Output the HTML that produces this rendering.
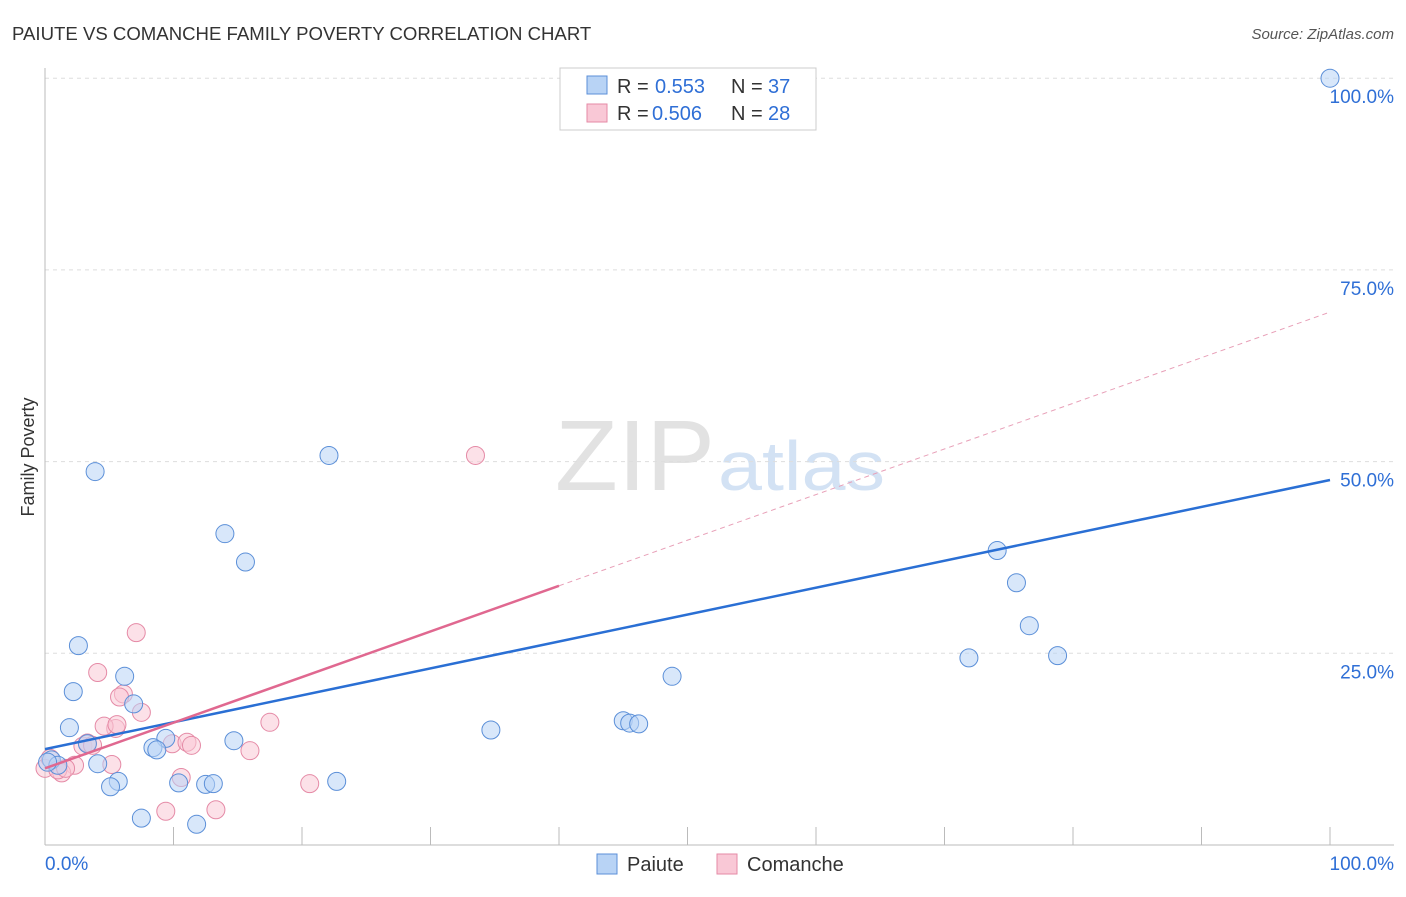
<!DOCTYPE html>
<html><head><meta charset="utf-8"><style>
body{margin:0;background:#fff;font-family:"Liberation Sans",sans-serif}
svg text{font-family:"Liberation Sans",sans-serif}
</style></head><body>
<svg id="c" width="1406" height="892" xmlns="http://www.w3.org/2000/svg">
<text x="12" y="40" font-size="18.6" fill="#333">PAIUTE VS COMANCHE FAMILY POVERTY CORRELATION CHART</text>
<text x="1394" y="39" font-size="15" fill="#555" text-anchor="end" font-style="italic">Source: ZipAtlas.com</text>
<text x="34" y="457" font-size="18" fill="#333" text-anchor="middle" transform="rotate(-90 34 457)">Family Poverty</text>
<text x="555" y="490" font-size="100" fill="#e2e2e2" textLength="160" lengthAdjust="spacingAndGlyphs" font-family="Liberation Serif">ZIP</text>
<text x="718" y="490" font-size="70" fill="#d3e2f4" textLength="167" lengthAdjust="spacingAndGlyphs">atlas</text>
<g id="grid"></g><g id="marks"></g>
<g>
<rect x="560" y="68" width="256" height="62" fill="#fff" stroke="#ccc"/>
<rect x="587" y="76" width="20" height="18" fill="#b8d3f5" stroke="#5b8fd8"/>
<text x="617" y="93" font-size="20" fill="#333">R =</text>
<text x="655" y="93" font-size="20" fill="#2f6fd6">0.553</text>
<text x="731" y="93" font-size="20" fill="#333">N =</text>
<text x="768" y="93" font-size="20" fill="#2f6fd6">37</text>
<rect x="587" y="104" width="20" height="18" fill="#f9c8d6" stroke="#e58aa6"/>
<text x="617" y="120" font-size="20" fill="#333">R =</text>
<text x="652" y="120" font-size="20" fill="#2f6fd6">0.506</text>
<text x="731" y="120" font-size="20" fill="#333">N =</text>
<text x="768" y="120" font-size="20" fill="#2f6fd6">28</text>
</g>
<g>
<rect x="597" y="854" width="20" height="20" fill="#b8d3f5" stroke="#5b8fd8"/>
<text x="627" y="871" font-size="20" fill="#333">Paiute</text>
<rect x="717" y="854" width="20" height="20" fill="#f9c8d6" stroke="#e58aa6"/>
<text x="747" y="871" font-size="20" fill="#333">Comanche</text>
</g>
</svg>
<script>
const paiuteX=[3.9,22.1,14,15.6,2.6,6.2,2.2,6.9,1.9,9.4,14.7,8.4,8.7,3.3,4.1,5.7,5.1,10.4,12.5,13.1,7.5,11.8,22.7,34.7,45,45.5,46.2,48.8,71.9,74.1,75.6,76.6,78.8,100,0.5,1,0.2];
const paiuteY=[48.7,50.8,40.6,36.9,26,22,20,18.4,15.3,13.9,13.6,12.7,12.4,13.2,10.6,8.3,7.6,8.1,7.9,8,3.5,2.7,8.3,15,16.2,15.9,15.8,22,24.4,38.4,34.2,28.6,24.7,100,11.1,10.4,10.8];
const comancheX=[33.5,7.1,4.1,6.1,5.8,7.5,5.5,4.6,5.6,17.5,2.95,3.3,3.7,9.9,11.05,11.4,15.95,5.2,2.3,10.6,20.6,9.4,13.3,0,0.4,1.3,1,1.6];
const comancheY=[50.8,27.7,22.5,19.7,19.3,17.3,15.2,15.5,15.7,16,12.9,13.3,13.0,13.2,13.4,13.0,12.3,10.5,10.4,8.8,8,4.4,4.6,10,11.3,9.4,9.8,10];
const paiuteLine=[12.5,47.6];
const comancheLine=[10.0,69.5];
const xTicks=[0,10,20,30,40,50,60,70,80,90,100];
const yTicks=[25,50,75,100];
const yTickLabels=["25.0%","50.0%","75.0%","100.0%"];
const NS="http://www.w3.org/2000/svg";
const X=v=>45+v*12.85, Y=v=>845-v*7.668;
function mk(t,a,p){const e=document.createElementNS(NS,t);for(const k in a)e.setAttribute(k,a[k]);p.appendChild(e);return e;}
const g=document.getElementById('grid'), m=document.getElementById('marks');
yTicks.forEach((t,i)=>{
 const l=mk('line',{x1:45,x2:1394,y1:Y(t),y2:Y(t),stroke:'#ddd','stroke-dasharray':'4,4'},g);
 
 
 const tx=mk('text',{x:1394,y:Y(t)+25,'font-size':19,fill:'#2f6fd6','text-anchor':'end'},g);
 tx.textContent=yTickLabels[i];
 
 
});
mk('line',{x1:45,x2:45,y1:68,y2:845,stroke:'#bbb'},g);
mk('line',{x1:45,x2:1394,y1:845,y2:845,stroke:'#bbb'},g);
xTicks.forEach(t=>{const l=mk('line',{x1:X(t),x2:X(t),y1:827,y2:845,stroke:'#bbb'},g);
 
 });
const xl=mk('text',{x:45,y:870,'font-size':19,fill:'#2f6fd6'},g);xl.textContent='0.0%';


const xr=mk('text',{x:1394,y:870,'font-size':19,fill:'#2f6fd6','text-anchor':'end'},g);xr.textContent='100.0%';


function pts(xs,ys,fill,stroke,name){xs.forEach((x,i)=>{const c=mk('circle',{cx:X(x),cy:Y(ys[i]),r:9,fill:fill,'fill-opacity':0.55,stroke:stroke,'stroke-width':1},m);
 
 });}
pts(comancheX,comancheY,'#f9c8d6','#e58aa6','comanche-point');
pts(paiuteX,paiuteY,'#b8d3f5','#5b8fd8','paiute-point');
const bl=mk('line',{x1:X(0),y1:Y(paiuteLine[0]),x2:X(100),y2:Y(paiuteLine[1]),stroke:'#2a6fd4','stroke-width':2.5},m);


const cAt=x=>comancheLine[0]+(comancheLine[1]-comancheLine[0])*x/100;
const pl=mk('line',{x1:X(0),y1:Y(cAt(0)),x2:X(40),y2:Y(cAt(40)),stroke:'#e06890','stroke-width':2.5},m);


const pd=mk('line',{x1:X(40),y1:Y(cAt(40)),x2:X(100),y2:Y(cAt(100)),stroke:'#e8a0b8','stroke-width':1,'stroke-dasharray':'5,4'},m);


</script>
</body></html>
